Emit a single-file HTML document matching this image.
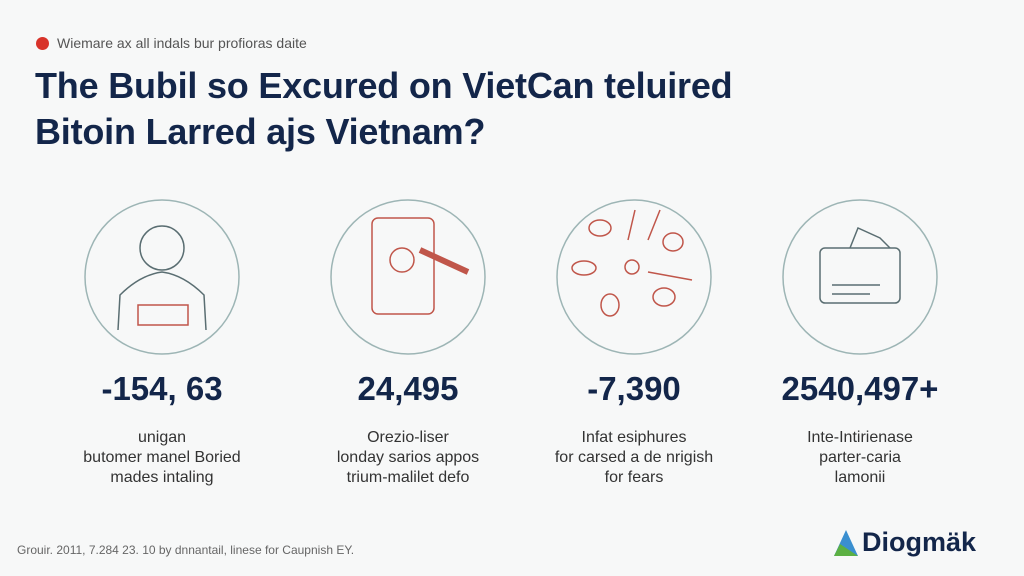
<!DOCTYPE html>
<html><head><meta charset="utf-8"><style>
body{margin:0;width:1024px;height:576px;background:#f7f8f8;font-family:"Liberation Sans",sans-serif;position:relative;overflow:hidden}
.a{position:absolute}
.sub{left:36px;top:35px;font-size:14px;color:#555;display:flex;align-items:center}
.sub i{display:inline-block;width:13px;height:13px;border-radius:50%;background:#d8332a;margin-right:8px}
.t{left:35px;top:63px;font-size:36px;font-weight:bold;color:#13264a;line-height:46px;letter-spacing:-0.2px}
.n{font-size:33px;font-weight:bold;color:#13264a;text-align:center;width:240px;top:370px}
.l{font-size:16px;color:#333;text-align:center;width:240px;top:428px;line-height:20px}
.f{left:17px;top:543px;font-size:12px;color:#666}
.logo{left:833px;top:527px;font-size:27px;font-weight:bold;color:#13264a;display:flex;align-items:center}
</style></head><body>
<div class="a sub"><i></i>Wiemare ax all indals bur profioras daite</div>
<div class="a t">The Bubil so Excured on VietCan teluired<br>Bitoin Larred ajs Vietnam?</div>
<svg class="a" style="left:0;top:0" width="1024" height="576">
<g fill="none" stroke="#9db5b5" stroke-width="1.5">
<circle cx="162" cy="277" r="77"/><circle cx="408" cy="277" r="77"/><circle cx="634" cy="277" r="77"/><circle cx="860" cy="277" r="77"/>
</g>
<g fill="none" stroke="#5a6e72" stroke-width="1.5">
<circle cx="162" cy="248" r="22"/><path d="M118 330 L120 295 Q140 275 162 272 Q184 275 204 295 L206 330"/>
<rect x="138" y="305" width="50" height="20" stroke="#c0564a"/>
<rect x="372" y="218" width="62" height="96" rx="6" stroke="#c0564a"/>
<circle cx="402" cy="260" r="12" stroke="#c0564a"/><path d="M420 250 L468 272" stroke="#c0564a" stroke-width="6"/>
<g stroke="#c0564a"><ellipse cx="600" cy="228" rx="11" ry="8"/><ellipse cx="673" cy="242" rx="10" ry="9"/><ellipse cx="584" cy="268" rx="12" ry="7"/><ellipse cx="664" cy="297" rx="11" ry="9"/><ellipse cx="610" cy="305" rx="9" ry="11"/><circle cx="632" cy="267" r="7"/><path d="M635 210 L628 240 M660 210 L648 240 M648 272 L692 280"/></g>
<rect x="820" y="248" width="80" height="55" rx="5"/><path d="M850 248 L858 228 L880 238 L890 248 M832 285 L880 285 M832 294 L870 294"/>
</g>
</svg>
<div class="a n" style="left:42px">-154, 63</div>
<div class="a n" style="left:288px">24,495</div>
<div class="a n" style="left:514px">-7,390</div>
<div class="a n" style="left:740px">2540,497+</div>
<div class="a l" style="left:42px">unigan<br>butomer manel Boried<br>mades intaling</div>
<div class="a l" style="left:288px">Orezio-liser<br>londay sarios appos<br>trium-malilet defo</div>
<div class="a l" style="left:514px">Infat esiphures<br>for carsed a de nrigish<br>for fears</div>
<div class="a l" style="left:740px">Inte-Intirienase<br>parter-caria<br>lamonii</div>
<div class="a f">Grouir. 2011, 7.284 23. 10 by dnnantail, linese for Caupnish EY.</div>
<div class="a logo"><svg width="26" height="28"><polygon points="13,1 25,27 1,27" fill="#3a8fd0"/><polygon points="7,15 25,27 1,27" fill="#5cb043"/></svg><span style="margin-left:3px">Diogmäk</span></div>
</body></html>
